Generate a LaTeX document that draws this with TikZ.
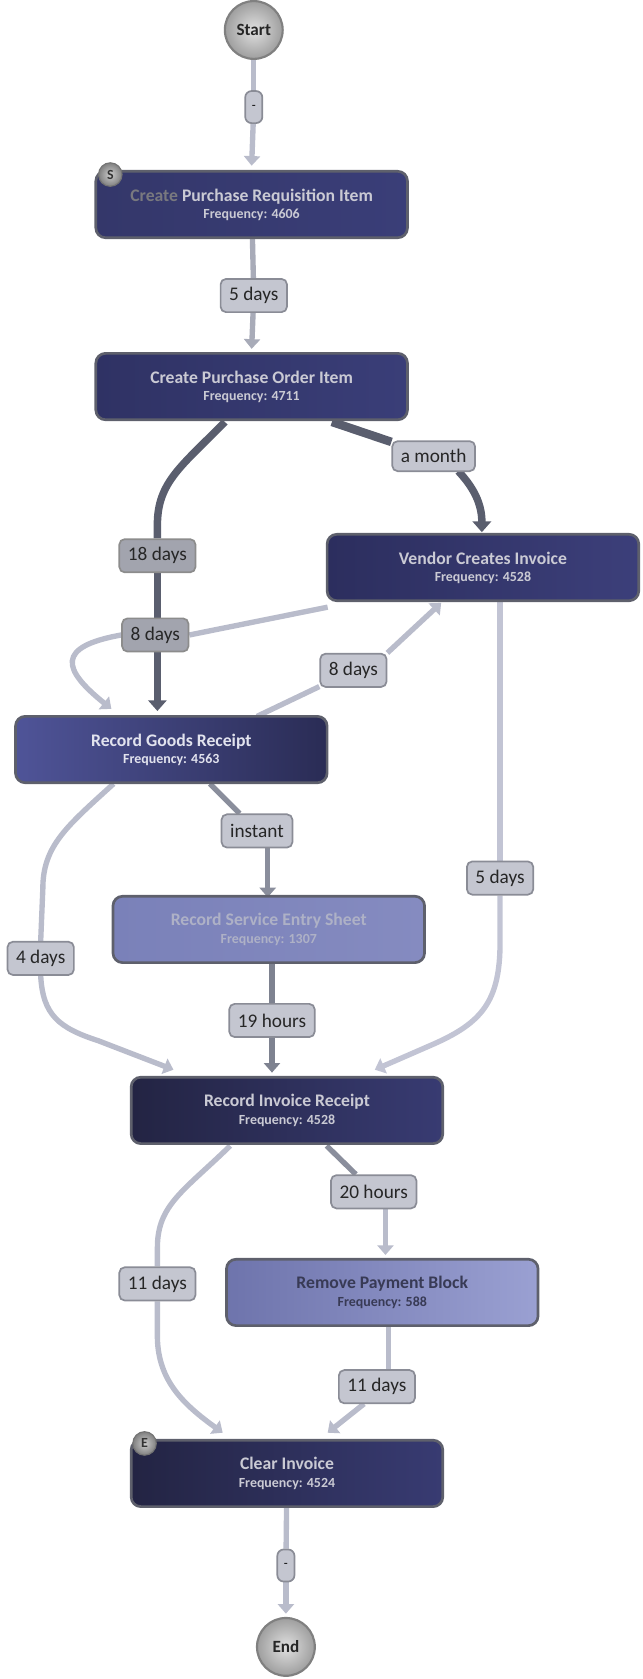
\documentclass[tikz,border=0pt]{standalone}
\usepackage{fontspec}
\setmainfont{Carlito}
\usetikzlibrary{arrows.meta,shapes.geometric}
\pgfdeclarelayer{bg}
\pgfsetlayers{bg,main}
\definecolor{darkedge}{HTML}{5A5E6E}
\definecolor{midedge}{HTML}{8A8E9C}
\definecolor{midedgeb}{HTML}{7E8290}
\definecolor{lightedge}{HTML}{B9BCCB}
\definecolor{lightedgeb}{HTML}{A8ABB8}
\definecolor{lightedgec}{HTML}{C2C4D4}
\definecolor{boxrim}{HTML}{5E606C}
\definecolor{darktxt}{HTML}{CACAD4}
\definecolor{lblfill}{HTML}{C4C6D0}
\definecolor{lbldark}{HTML}{A2A4AE}
\definecolor{lblrim}{HTML}{8A8C96}
\definecolor{cA}{HTML}{34376A}\definecolor{cB}{HTML}{23244A}\definecolor{cC}{HTML}{3A3E78}
\definecolor{cD}{HTML}{2F3264}\definecolor{cE}{HTML}{222347}
\definecolor{cF}{HTML}{2C2E5E}\definecolor{cG}{HTML}{2A2B58}\definecolor{cH}{HTML}{3C3F7A}
\definecolor{cI}{HTML}{4F5498}\definecolor{cJ}{HTML}{2C2E5C}\definecolor{cK}{HTML}{2A2C55}
\definecolor{cL}{HTML}{7A81B9}\definecolor{cM}{HTML}{666CA0}\definecolor{cN}{HTML}{858BC0}
\definecolor{cO}{HTML}{232443}\definecolor{cP}{HTML}{28294E}\definecolor{cQ}{HTML}{383B72}
\definecolor{cR}{HTML}{6E74AC}\definecolor{cS}{HTML}{8A90C4}\definecolor{cT}{HTML}{9AA0D2}
\definecolor{svtxt}{HTML}{AEB1C6}
\definecolor{rptxt}{HTML}{383A55}
\definecolor{grtxt}{HTML}{E2E3EE}
\tikzset{
  procbox/.style={rectangle, rounded corners=9pt, minimum width=291pt, minimum height=62pt,
    draw=boxrim, line width=2.5pt, align=center, font=\fontsize{16.5}{18}\selectfont\bfseries, text=darktxt},
  lbl/.style={rectangle, rounded corners=5pt, fill=lblfill, draw=lblrim, line width=1.6pt,
    minimum height=31pt, inner xsep=8pt, font=\fontsize{18}{20}\selectfont, text=black!85},
  dlbl/.style={lbl, fill=lbldark, draw=black!45},
  dashlbl/.style={rectangle, rounded corners=6pt, fill=lblfill, draw=lblrim, line width=1.6pt,
    minimum width=16pt, minimum height=30pt, inner sep=0pt, font=\fontsize{12}{14}\selectfont},
  termnode/.style={circle, minimum size=54pt, inner sep=0pt, inner color=black!12, outer color=black!38,
    draw=black!50, line width=2pt, font=\fontsize{16}{18}\selectfont\bfseries, text=black!85},
  badge/.style={circle, minimum size=22pt, inner sep=0pt, inner color=black!20, outer color=black!50,
    draw=black!55, line width=1pt, font=\fontsize{13}{14}\selectfont\bfseries, text=black!80},
  edgeD/.style={draw=darkedge, line width=7pt},
  edgeM/.style={draw=midedge, line width=5pt},
  edgeL/.style={draw=lightedge, line width=5pt},
  tipD/.style={-{Triangle[width=17pt,length=10pt]}},
  tipL/.style={-{Triangle[width=15pt,length=9pt]}}
}
\newcommand{\frq}[1]{\\[-2pt]{\fontsize{13}{14}\selectfont\bfseries Frequency: #1}}
\begin{document}
\begin{tikzpicture}[x=1pt,y=-1pt]
\useasboundingbox (0,0) rectangle (600,1568);
% nodes
\node[termnode] (start) at (237,28) {Start};
\node[dashlbl] (dash1) at (237,100) {-};
\node[procbox, left color=cA, middle color=cB, right color=cC] (req) at (235,191)
  {\textcolor{black!40!darktxt}{Create} Purchase Requisition Item\frq{4606}};
\node[badge] (sbadge) at (103,163) {S};
\node[lbl] (l5d) at (237,276) {5 days};
\node[procbox, left color=cD, middle color=cE, right color=cC] (po) at (235,361)
  {Create Purchase Order Item\frq{4711}};
\node[procbox, left color=cF, middle color=cG, right color=cH] (vendor) at (451,530)
  {Vendor Creates Invoice\frq{4528}};
\node[procbox, left color=cI, middle color=cJ, right color=cK, text=grtxt] (goods) at (160,700)
  {Record Goods Receipt\frq{4563}};
\node[procbox, left color=cL, middle color=cM, right color=cN, text=svtxt] (service) at (251,868)
  {Record Service Entry Sheet\frq{1307}};
\node[procbox, left color=cO, middle color=cP, right color=cQ] (ir) at (268,1037)
  {Record Invoice Receipt\frq{4528}};
\node[procbox, left color=cR, middle color=cS, right color=cT, text=rptxt] (rpb) at (357,1207)
  {Remove Payment Block\frq{588}};
\node[procbox, left color=cO, middle color=cP, right color=cQ] (clear) at (268,1376)
  {Clear Invoice\frq{4524}};
\node[badge] (ebadge) at (135,1348) {E};
\node[dashlbl] (dash2) at (267,1462) {-};
\node[termnode] (end) at (267,1538) {End};
% labels
\node[dlbl] (l18) at (147,519) {18 days};
\node[lbl, minimum height=28pt] (lmonth) at (405,426) {a month};
\node[dlbl] (l8a) at (145,593) {8 days};
\node[lbl] (l8b) at (330,626) {8 days};
\node[lbl] (linst) at (240,776) {instant};
\node[lbl] (l4) at (38,895) {4 days};
\node[lbl] (l5b) at (467,820) {5 days};
\node[lbl] (l19) at (254,953) {19 hours};
\node[lbl] (l20) at (349,1113) {20 hours};
\node[lbl] (l11a) at (147,1199) {11 days};
\node[lbl] (l11b) at (352,1295) {11 days};

\begin{pgfonlayer}{bg}
\draw[edgeL] (start) -- (dash1);
\draw[edgeL,tipL] (dash1) -- ([yshift=4pt]req.north);
\draw[edgeL,draw=lightedgeb] (req) -- (l5d);
\draw[edgeL,draw=lightedgeb,tipL] (l5d) -- ([yshift=3pt]po.north);
% PO -> Goods (dark)
\coordinate (a1) at (210,394);
\draw[edgeD] (a1) .. controls (170,435) and (147,450) .. (147,490) -- (l18.north);
\coordinate (a2) at (147,664);
\draw[edgeD,tipD] (l18.south) -- (a2);
% PO -> Vendor (dark)
\coordinate (b1) at (310,394);
\draw[edgeD,line width=8pt] (b1) -- (lmonth);
\coordinate (b2) at (450,497);
\coordinate (b0) at (428,440);
\draw[edgeD,tipD] (b0) .. controls (442,455) and (450,470) .. (b2);
% Vendor -> Goods
\coordinate (c1) at (306,567);
\draw[edgeL] (c1) -- (l8a.east);
\coordinate (c2) at (104,662);
\draw[edgeL,tipL] (l8a.west) .. controls (52,604) and (58,625) .. (c2);
% Goods -> Vendor
\coordinate (d1) at (240,669);
\draw[edgeL] (d1) -- (l8b);
\coordinate (d2) at (412,563);
\draw[edgeL,tipL] (l8b.north east) -- (d2);
% Goods -> IR (4 days)
\coordinate (e1) at (106,732);
\draw[edgeL] (e1) .. controls (62,772) and (40,790) .. (40,830) -- (l4.north);
\coordinate (e2) at (162,999);
\draw[edgeL,tipL] (l4.south) .. controls (40,948) and (55,960) .. (92,972) -- (e2);
% Goods -> Service
\coordinate (f1) at (196,732);
\draw[edgeM] (f1) -- (linst);
\coordinate (f2) at (250,838);
\draw[edgeM,tipL] (linst.south -| f2) -- (f2);
% Service -> IR
\draw[edgeM,draw=midedgeb] (service.south -| l19) -- (l19);
\draw[edgeM,draw=midedgeb,tipL] (l19) -- ([yshift=3pt]ir.north -| l19);
% Vendor -> IR (5 days)
\coordinate (g1) at (467,562);
\draw[edgeL,draw=lightedgec] (g1) -- (l5b);
\coordinate (g2) at (350,999);
\draw[edgeL,draw=lightedgec,tipL] (l5b.south) -- (467,880) .. controls (467,935) and (450,955) .. (405,975) -- (g2);
% IR -> Clear (11 days)
\coordinate (h1) at (215,1070);
\draw[edgeL] (h1) .. controls (172,1112) and (147,1125) .. (147,1165) -- (l11a.north);
\coordinate (h2) at (208,1338);
\draw[edgeL,tipL] (l11a.south) -- (147,1250) .. controls (148,1290) and (172,1312) .. (h2);
% IR -> RPB
\coordinate (i1) at (305,1070);
\draw[edgeM] (i1) -- (l20);
\coordinate (i2) at (360,1172);
\draw[edgeL,tipL] (l20.south -| i2) -- (i2);
% RPB -> Clear
\coordinate (j1) at (363,1239);
\draw[edgeL] (j1) -- (l11b.north -| j1);
\coordinate (j0) at (340,1311);
\coordinate (j2) at (306,1338);
\draw[edgeL,tipL] (j0) -- (j2);
% Clear -> End
\draw[edgeL] (clear) -- (dash2);
\draw[edgeL,tipL] (dash2) -- ([yshift=3pt]end.north);
\end{pgfonlayer}
\end{tikzpicture}
\end{document}
